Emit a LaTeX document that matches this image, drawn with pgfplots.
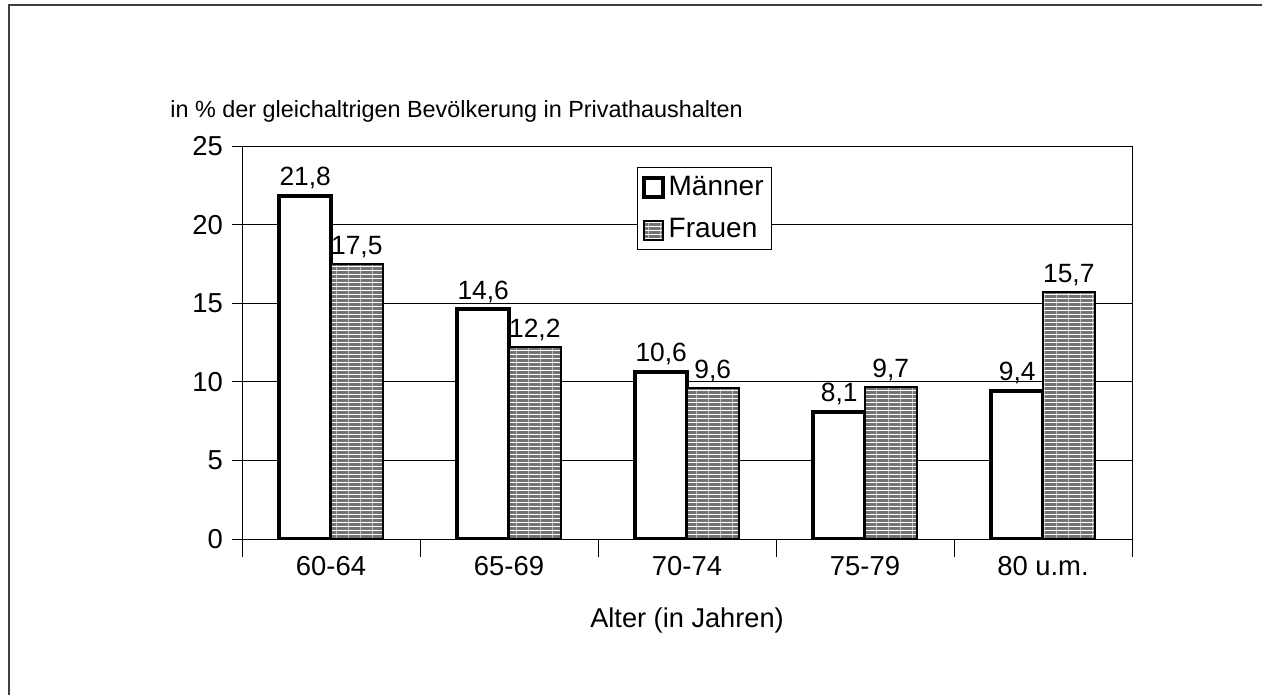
\documentclass[border=0pt]{standalone}
\usepackage{fontspec}
\setmainfont{Liberation Sans}
\usepackage{pgfplots}
\pgfplotsset{compat=1.18}
\usetikzlibrary{patterns.meta}
\begin{document}
\begin{tikzpicture}
\useasboundingbox (0,0) rectangle (631pt,-347.5pt);
\draw[line width=1pt, black!75] (4.25pt,-347.5pt) -- (4.25pt,-2.75pt) -- (631pt,-2.75pt);
\node[anchor=base west, font=\fontsize{11.7pt}{13pt}\selectfont, inner sep=0pt] at (85pt,-59pt) {in \% der gleichaltrigen Bevölkerung in Privathaushalten};
\begin{axis}[
  at={(121pt,-269.5pt)}, anchor=south west,
  scale only axis, width=445pt, height=196.5pt,
  ybar, bar width=0.29,
  xmin=-0.5, xmax=4.5, ymin=0, ymax=25,
  ytick={0,5,...,25},
  xtick={0,1,2,3,4},
  xticklabels={60-64,65-69,70-74,75-79,80 u.m.},
  minor xtick={-0.5,0.5,1.5,2.5,3.5,4.5},
  major x tick style={draw=none},
  minor tick length=9pt,
  major tick length=5pt,
  tick align=outside,
  xtick pos=bottom, ytick pos=left,
  ymajorgrids,
  grid style={black, line width=0.5pt},
  axis line style={black, line width=0.5pt},
  tick style={black, line width=0.5pt},
  /pgf/number format/assume math mode=true,
  tick label style={font=\fontsize{13.7pt}{15pt}\selectfont},
  yticklabel style={xshift=-1pt},
  xticklabel style={yshift=0pt},
  xlabel={Alter (in Jahren)},
  xlabel style={font=\fontsize{13.6pt}{15pt}\selectfont, at={(axis description cs:0.5,-0.206)}, anchor=center},
  nodes near coords={\pgfmathprintnumber[use comma,fixed,fixed zerofill,precision=1]{\pgfplotspointmeta}},
  nodes near coords style={font=\fontsize{13.2pt}{15pt}\selectfont, inner sep=2.5pt, black},
  legend style={at={(0.444,0.947)}, anchor=north west, draw=black, line width=0.5pt,
    font=\fontsize{14pt}{15pt}\selectfont, row sep=6pt, inner xsep=2pt, inner ysep=2.5pt},
  legend cell align=left,
  legend image code/.code={\draw[#1] (0.5pt,-5pt) rectangle (10pt,4.5pt);},
]
\addplot[draw=black, fill=white, line width=2pt, bar shift=-0.145] coordinates {(0,21.8) (1,14.6) (2,10.6) (3,8.1) (4,9.4)};
\addplot[draw=black, line width=1pt, bar shift=0.145,
  preaction={fill=black!55},
  preaction={pattern={Lines[angle=90,distance=6pt,line width=0.4pt]}, pattern color=black!25},
  pattern={Lines[angle=0,distance=2pt,line width=0.5pt]}, pattern color=white]
  coordinates {(0,17.5) (1,12.2) (2,9.6) (3,9.7) (4,15.7)};
\legend{Männer,Frauen}
\end{axis}
\end{tikzpicture}
\end{document}
